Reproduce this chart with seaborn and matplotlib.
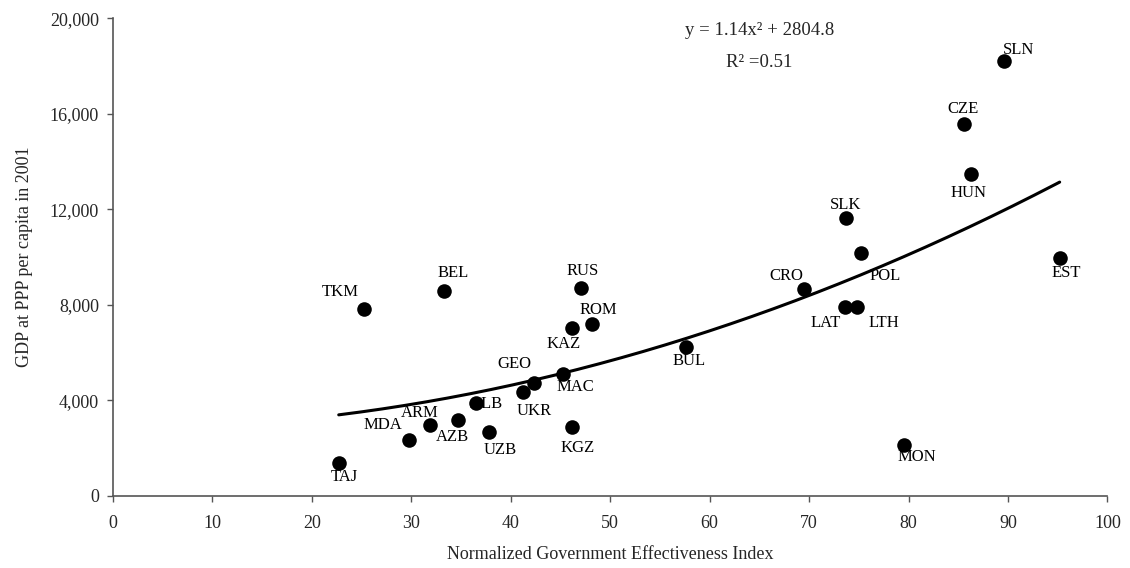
import numpy as np
import pandas as pd
import matplotlib
matplotlib.use("Agg")
import matplotlib.pyplot as plt
import seaborn as sns

# Country codes, government effectiveness index and GDP (PPP) per capita 2001
countries = ['TAJ', 'MDA', 'ARM', 'AZB', 'ALB', 'UZB', 'UKR', 'GEO', 'MAC', 'KGZ',
             'TKM', 'BEL', 'RUS', 'KAZ', 'ROM', 'BUL', 'CRO', 'LAT', 'LTH', 'SLK',
             'POL', 'MON', 'EST', 'HUN', 'CZE', 'SLN']
gov_index = [22.7, 29.8, 31.9, 34.7, 36.5, 37.8, 41.2, 42.3, 45.3, 46.2,
             25.2, 33.3, 47.1, 46.2, 48.2, 57.6, 69.5, 73.6, 74.8, 73.7,
             75.2, 79.5, 95.2, 86.3, 85.6, 89.6]
gdp_ppp = [1380, 2340, 2970, 3180, 3890, 2680, 4350, 4730, 5100, 2890,
           7820, 8580, 8700, 7030, 7200, 6230, 8660, 7910, 7910, 11630,
           10170, 2130, 9960, 13470, 15560, 18200]

# label offsets in pixels (dx right, dy up) relative to each dot
label_dx = [6, -26, -10, -6, 10, 11, 12, -19, 12, 5,
            -23, 9, 1, -9, 6, 3, -18, -19, 27, 0,
            24, 13, 7, -3, -1, 15]
label_dy = [-14, 15, 12, -17, -1, -18, -19, 19, -13, -21,
            17, 18, 17, -16, 14, -14, 13, -16, -16, 13,
            -23, -12, -15, -19, 15, 11]

# quadratic trend from the chart: y = a*x^2 + b
coef_a = 1.14
coef_b = 2804.8
r_squared = 0.51

df = pd.DataFrame({'country': countries, 'index': gov_index, 'gdp': gdp_ppp})

sns.set_style("ticks")
plt.rcParams['font.family'] = ['Liberation Serif', 'DejaVu Serif']

fig = plt.figure(figsize=(11.3, 5.68), dpi=100)
ax = fig.add_axes([0.1, 0.127, 0.88, 0.841])

# trend curve over the range of the data
xs = np.linspace(df['index'].min(), df['index'].max(), 200)
ax.plot(xs, coef_a * xs ** 2 + coef_b, color='black', lw=2.2, zorder=2)

sns.scatterplot(data=df, x='index', y='gdp', ax=ax, color='black', s=110,
                edgecolor='black', linewidth=0, zorder=3)

for name, x, y, dx, dy in zip(countries, gov_index, gdp_ppp, label_dx, label_dy):
    ax.annotate(name, (x, y), xytext=(dx * 0.72, dy * 0.72), textcoords='offset points',
                ha='center', va='center', fontsize=12, color='black', zorder=4)

ax.text(0.65, 0.975, f'y = {coef_a:.2f}x\u00b2 + {coef_b:.1f}', transform=ax.transAxes,
        ha='center', va='center', fontsize=13.5)
ax.text(0.65, 0.908, f'R\u00b2 =0.{int(round(r_squared * 100))}', transform=ax.transAxes,
        ha='center', va='center', fontsize=13.5)

ax.set_xlim(0, 100)
ax.set_ylim(0, 20000)
ax.set_xticks(np.arange(0, 101, 10))
ax.set_yticks(np.arange(0, 20001, 4000))
ax.yaxis.set_major_formatter(matplotlib.ticker.FuncFormatter(lambda v, p: f'{int(v):,}'))
ax.tick_params(axis='both', labelsize=13, length=4, width=1, color='#555555', pad=6)
ax.tick_params(axis='x', pad=10)

for side in ['top', 'right']:
    ax.spines[side].set_visible(False)
for side in ['left', 'bottom']:
    ax.spines[side].set_color('#555555')
    ax.spines[side].set_linewidth(1.2)

ax.set_xlabel('Normalized Government Effectiveness Index', fontsize=13, labelpad=10)
ax.set_ylabel('GDP at PPP per capita in 2001', fontsize=13, labelpad=12)

fig.savefig('out.png', dpi=100)
